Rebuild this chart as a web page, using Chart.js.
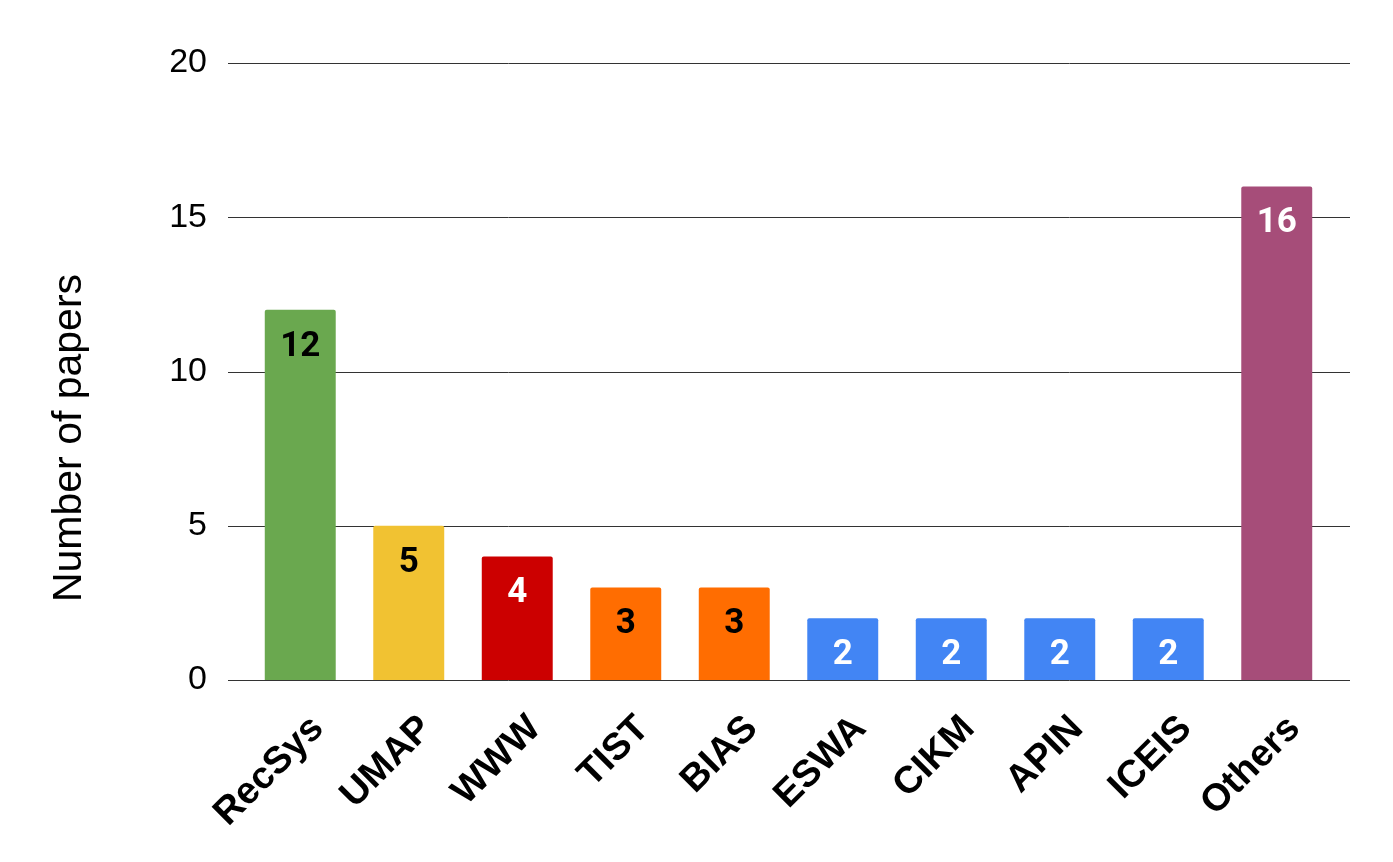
<!DOCTYPE html>
<html>
<head>
<meta charset="utf-8">
<script src="https://cdn.jsdelivr.net/npm/chart.js@4"></script>
<style>
  html, body { margin: 0; padding: 0; background: #fff; }
  #wrap { width: 1393px; height: 862px; }
</style>
</head>
<body>
<div id="wrap"><canvas id="chartCanvas"></canvas></div>
<script>
var venues = ['RecSys', 'UMAP', 'WWW', 'TIST', 'BIAS', 'ESWA', 'CIKM', 'APIN', 'ICEIS', 'Others'];
var papers = [12, 5, 4, 3, 3, 2, 2, 2, 2, 16];
var barColors = ['#6aa84f', '#f1c232', '#cc0000', '#ff6d01', '#ff6d01', '#4285f4', '#4285f4', '#4285f4', '#4285f4', '#a64d79'];
var labelColors = ['#000', '#000', '#fff', '#000', '#000', '#fff', '#fff', '#fff', '#fff', '#fff'];
var yTicks = [0, 5, 10, 15, 20];
var yTitle = 'Number of papers';

// horizontal grid lines, a bit wider than the bar area
var gridPlugin = {
	id: 'gridLines',
	beforeDatasetsDraw: function(chart) {
		var ctx = chart.ctx;
		var area = chart.chartArea;
		var y = chart.scales.y;
		ctx.save();
		ctx.strokeStyle = '#333333';
		ctx.lineWidth = 1;
		yTicks.forEach(function(t) {
			var py = Math.round(y.getPixelForValue(t)) + 0.5;
			ctx.beginPath();
			ctx.moveTo(area.left - 18, py);
			ctx.lineTo(area.right + 19, py);
			ctx.stroke();
		});
		ctx.restore();
	}
};

// value labels inside the top of each bar
var valuePlugin = {
	id: 'valueLabels',
	afterDatasetsDraw: function(chart) {
		var ctx = chart.ctx;
		var meta = chart.getDatasetMeta(0);
		ctx.save();
		ctx.font = 'bold 35px Roboto';
		ctx.textAlign = 'center';
		ctx.textBaseline = 'middle';
		meta.data.forEach(function(bar, i) {
			ctx.fillStyle = labelColors[i];
			ctx.fillText(String(papers[i]), bar.x, bar.y + 37);
		});
		ctx.restore();
	}
};

// rotated category labels, ending a little right of each bar centre
var xLabelPlugin = {
	id: 'xLabels',
	afterDraw: function(chart) {
		var ctx = chart.ctx;
		var x = chart.scales.x;
		var base = chart.scales.y.getPixelForValue(0);
		ctx.save();
		ctx.font = 'bold 38px "Liberation Sans"';
		ctx.fillStyle = '#000';
		ctx.textAlign = 'right';
		ctx.textBaseline = 'alphabetic';
		venues.forEach(function(v, i) {
			ctx.save();
			ctx.translate(x.getPixelForValue(i) + 25, base + 50);
			ctx.rotate(-Math.PI / 4);
			ctx.fillText(v, 0, 0);
			ctx.restore();
		});
		ctx.restore();
	}
};

// y axis title
var titlePlugin = {
	id: 'yTitle',
	afterDraw: function(chart) {
		var ctx = chart.ctx;
		ctx.save();
		ctx.translate(81, chart.height / 2 + 7);
		ctx.rotate(-Math.PI / 2);
		ctx.font = '41px "Liberation Sans"';
		ctx.fillStyle = '#000';
		ctx.textAlign = 'center';
		ctx.textBaseline = 'alphabetic';
		ctx.fillText(yTitle, 0, 0);
		ctx.restore();
	}
};

var ctx = document.getElementById('chartCanvas');
var chart = new Chart(ctx, {
	type: 'bar',
	data: {
		labels: venues,
		datasets: [{
			data: papers,
			backgroundColor: barColors,
			borderRadius: 2,
			borderSkipped: 'bottom',
			barPercentage: 0.654,
			categoryPercentage: 1
		}]
	},
	options: {
		responsive: true,
		maintainAspectRatio: false,
		animation: false,
		layout: { padding: { top: 63, right: 62, left: 0, bottom: 0 } },
		plugins: {
			legend: { display: false },
			tooltip: { enabled: false }
		},
		scales: {
			x: {
				grid: { display: false, drawTicks: false },
				border: { display: false },
				afterFit: function(scale) { scale.height = 182; },
				ticks: { display: false }
			},
			y: {
				min: 0,
				max: 20,
				grid: { display: false, drawTicks: false },
				border: { display: false },
				afterFit: function(scale) { scale.width = 246; },
				afterBuildTicks: function(scale) {
					scale.ticks = yTicks.map(function(v) { return { value: v }; });
				},
				ticks: {
					color: '#000',
					padding: 39,
					font: { family: '"Liberation Sans"', size: 34 }
				}
			}
		}
	},
	plugins: [gridPlugin, valuePlugin, xLabelPlugin, titlePlugin]
});
</script>
</body>
</html>
